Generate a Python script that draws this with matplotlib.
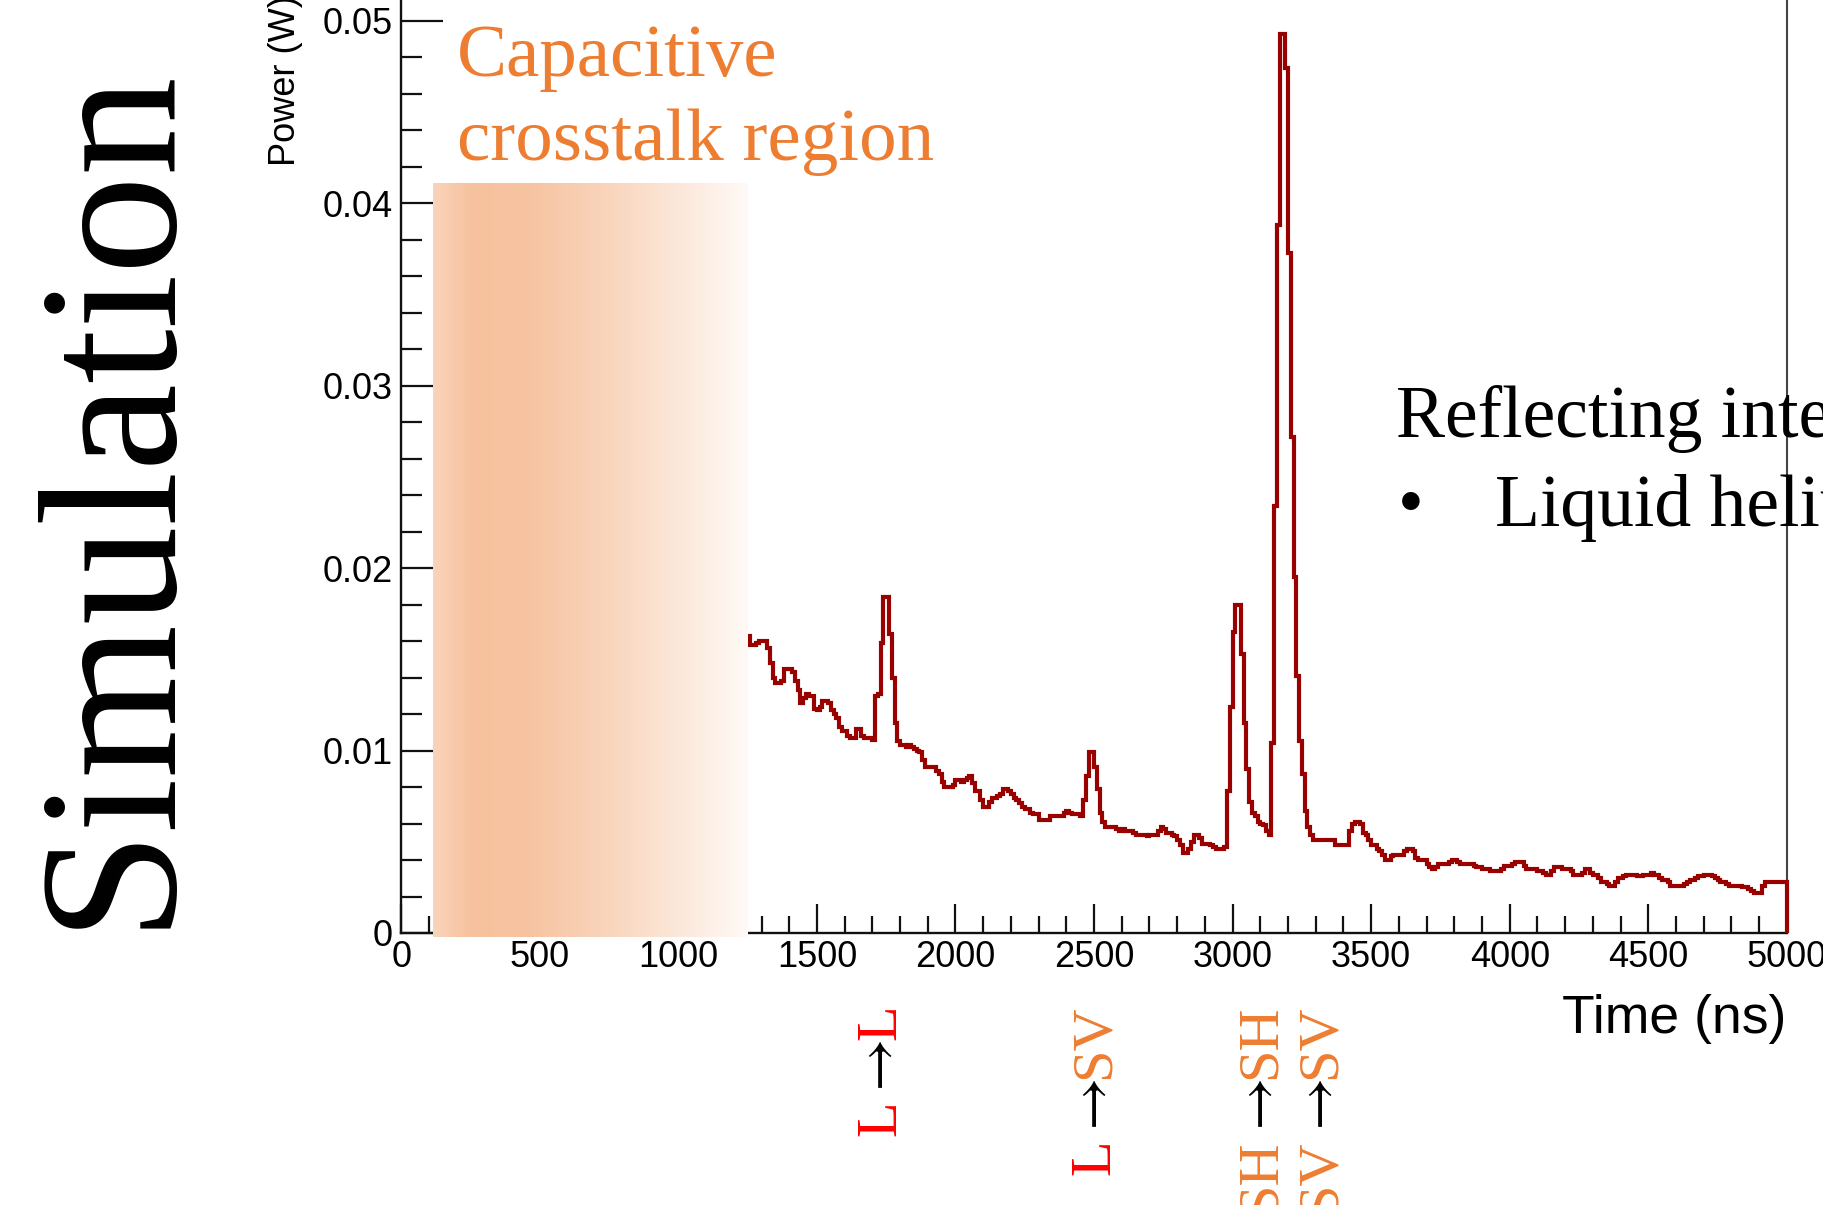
import matplotlib
matplotlib.use('Agg')
import matplotlib.pyplot as plt
import numpy as np
from matplotlib.ticker import MultipleLocator

plt.rcParams['font.family'] = ['Liberation Sans', 'DejaVu Sans']
plt.rcParams['mathtext.fontset'] = 'stix'

SERIF = ['Liberation Serif', 'DejaVu Serif']
ORANGE = '#ED7D31'
RED = '#FF0000'
HIST_COLOR = '#990000'

# histogram binning (ns)
t_start = 1200
bin_width = 10

# simulated power per bin in mW, one row = 100 ns, first row starts at 1200 ns
power_mw = [
    16.1, 16.2, 16.0, 16.1, 16.0, 16.3, 15.8, 15.8, 15.9, 16.0,
    16.0, 16.0, 15.6, 14.8, 14.0, 13.7, 13.7, 13.8, 14.5, 14.5,
    14.5, 14.3, 13.8, 13.3, 12.6, 12.9, 13.1, 13.0, 13.0, 12.3,
    12.2, 12.4, 12.7, 12.7, 12.6, 12.2, 12.0, 11.8, 11.3, 11.1,
    11.1, 10.8, 10.7, 10.7, 11.2, 11.2, 10.8, 10.7, 10.7, 10.7,
    10.6, 13.0, 13.1, 15.9, 18.4, 18.4, 16.4, 14.0, 11.5, 10.5,
    10.3, 10.3, 10.2, 10.3, 10.2, 10.1, 10.0, 9.9, 9.5, 9.1,
    9.1, 9.1, 9.1, 8.9, 8.7, 8.3, 8.0, 8.0, 8.0, 8.1,
    8.4, 8.4, 8.3, 8.4, 8.5, 8.6, 8.2, 7.8, 7.8, 7.3,
    6.9, 6.9, 7.2, 7.4, 7.4, 7.5, 7.6, 7.9, 7.9, 7.8,
    7.6, 7.4, 7.3, 7.1, 6.9, 6.8, 6.8, 6.6, 6.5, 6.5,
    6.2, 6.2, 6.2, 6.2, 6.4, 6.4, 6.4, 6.4, 6.4, 6.6,
    6.7, 6.6, 6.5, 6.5, 6.5, 6.4, 7.3, 8.6, 9.9, 9.9,
    9.1, 7.9, 6.6, 6.1, 5.8, 5.8, 5.8, 5.8, 5.7, 5.6,
    5.7, 5.6, 5.6, 5.6, 5.5, 5.4, 5.4, 5.4, 5.4, 5.3,
    5.4, 5.4, 5.4, 5.6, 5.8, 5.7, 5.5, 5.5, 5.4, 5.3,
    5.1, 4.8, 4.4, 4.4, 4.6, 5.0, 5.4, 5.4, 5.2, 4.9,
    4.9, 4.9, 4.8, 4.7, 4.6, 4.6, 4.6, 4.7, 7.8, 12.4,
    16.5, 18.0, 18.0, 15.3, 11.5, 9.0, 7.2, 6.6, 6.4, 6.1,
    6.0, 5.9, 5.6, 5.4, 10.4, 23.4, 38.8, 49.3, 49.3, 47.4,
    37.3, 27.2, 19.5, 14.1, 10.5, 8.7, 6.7, 5.8, 5.4, 5.1,
    5.1, 5.1, 5.1, 5.1, 5.1, 5.1, 5.1, 4.8, 4.8, 4.8,
    4.8, 4.8, 5.6, 6.0, 6.1, 6.1, 6.0, 5.5, 5.4, 5.1,
    4.8, 4.8, 4.6, 4.5, 4.3, 4.0, 4.0, 4.2, 4.3, 4.3,
    4.3, 4.3, 4.5, 4.6, 4.6, 4.5, 4.1, 4.0, 4.0, 4.0,
    3.8, 3.6, 3.5, 3.6, 3.8, 3.8, 3.8, 3.8, 3.9, 4.0,
    4.0, 3.9, 3.8, 3.8, 3.8, 3.8, 3.8, 3.7, 3.6, 3.6,
    3.5, 3.5, 3.5, 3.4, 3.4, 3.4, 3.4, 3.5, 3.7, 3.7,
    3.7, 3.8, 3.9, 3.9, 3.9, 3.7, 3.5, 3.5, 3.5, 3.5,
    3.4, 3.4, 3.3, 3.2, 3.2, 3.4, 3.6, 3.6, 3.6, 3.5,
    3.5, 3.5, 3.4, 3.2, 3.2, 3.2, 3.3, 3.5, 3.5, 3.3,
    3.2, 3.2, 3.0, 2.8, 2.8, 2.7, 2.6, 2.6, 2.8, 3.0,
    3.0, 3.1, 3.2, 3.2, 3.2, 3.2, 3.1, 3.1, 3.2, 3.2,
    3.2, 3.3, 3.2, 3.2, 3.0, 2.9, 2.9, 2.8, 2.6, 2.6,
    2.6, 2.6, 2.6, 2.7, 2.8, 2.9, 2.9, 3.0, 3.1, 3.1,
    3.2, 3.2, 3.2, 3.1, 3.0, 2.9, 2.8, 2.8, 2.7, 2.6,
    2.6, 2.6, 2.6, 2.6, 2.5, 2.5, 2.4, 2.3, 2.2, 2.2,
    2.2, 2.6, 2.8, 2.8, 2.8, 2.8, 2.8, 2.8, 2.8, 2.8,
]

x_ticks = [0, 500, 1000, 1500, 2000, 2500, 3000, 3500, 4000, 4500, 5000]
y_ticks = [0, 0.01, 0.02, 0.03, 0.04, 0.05]
y_tick_labels = ['0', '0.01', '0.02', '0.03', '0.04', '0.05']

region_lines = ['Capacitive', 'crosstalk region']
interface_lines = ['Reflecting interfaces:', 'Liquid helium']

# reflection paths written under the time axis, as (text, colour) pieces
arrow = r'$\rightarrow$'
transitions = [
    [('L', RED), (arrow, 'black'), ('L', RED)],
    [('L', RED), (arrow, 'black'), ('SV', ORANGE)],
    [('SH', ORANGE), (arrow, 'black'), ('SH', ORANGE)],
    [('SV', ORANGE), (arrow, 'black'), ('SV', ORANGE)],
]

W, H = 1824, 1205


def fx(px):
    return px / W


def fy(py):
    return 1 - py / H


fig = plt.figure(figsize=(W / 100, H / 100), dpi=100)
ax = fig.add_axes([fx(401.3), fy(933), fx(1786.8) - fx(401.3), (933 + 15.5) / H])

# power histogram
edges = t_start + bin_width * np.arange(len(power_mw) + 1)
power = np.array(power_mw) / 1000
ax.stairs(power, edges, baseline=0, color=HIST_COLOR, lw=3.0, zorder=3, clip_on=False)

# shaded band over the capacitive crosstalk window
u = np.linspace(0, 1, 500)
alpha = np.interp(u, [0, 0.12, 0.3, 0.55, 0.8, 1.0], [0.33, 0.47, 0.46, 0.33, 0.17, 0.04])
orange_rgb = np.array([237, 125, 49]) / 255
band = 1 - alpha[:, None] * (1 - orange_rgb)
ax.imshow(band[None, :, :], extent=(113, 1247, -0.0002, 0.0411), aspect='auto',
          interpolation='bilinear', zorder=4, clip_on=False)

ax.set_xlim(0, 5000)
ax.set_ylim(0, 0.052)

ax.set_xticks(x_ticks)
ax.set_xticklabels([str(t) for t in x_ticks])
ax.set_yticks(y_ticks)
ax.set_yticklabels(y_tick_labels)
ax.xaxis.set_minor_locator(MultipleLocator(100))
ax.yaxis.set_minor_locator(MultipleLocator(0.002))

ax.tick_params(axis='both', which='both', direction='in', colors='#111111', labelcolor='black',
               labelsize=26, top=False, right=False)
ax.tick_params(axis='x', which='major', length=21, width=1.6, pad=5)
ax.tick_params(axis='x', which='minor', length=12, width=1.6)
ax.tick_params(axis='y', which='major', length=30, width=1.6, pad=6)
ax.tick_params(axis='y', which='minor', length=15, width=1.6)

for side in ('left', 'bottom'):
    ax.spines[side].set_linewidth(1.7)
    ax.spines[side].set_color('#111111')
ax.spines['right'].set_linewidth(1.5)
ax.spines['right'].set_color('#444444')
ax.spines['top'].set_visible(False)

# axis titles
fig.text(fx(295), fy(166), 'Power (W)', fontsize=26, rotation=90,
         rotation_mode='anchor', ha='left', va='baseline')
fig.text(fx(1786), fy(1033), 'Time (ns)', fontsize=38.5, ha='right', va='baseline')

# big side title
fig.text(fx(163), fy(928), 'Simulation', family=SERIF, fontsize=142, rotation=90,
         rotation_mode='anchor', ha='left', va='baseline')

# crosstalk region caption
for line, base in zip(region_lines, [75.6, 160.5]):
    fig.text(fx(457), fy(base), line, family=SERIF, fontsize=54, color=ORANGE,
             ha='left', va='baseline')

# reflecting interfaces caption (runs off the right edge)
fig.text(fx(1396), fy(437), interface_lines[0], family=SERIF, fontsize=53,
         ha='left', va='baseline')
fig.text(fx(1398), fy(526), '\u2022', family=SERIF, fontsize=53, ha='left', va='baseline')
fig.text(fx(1495), fy(526), interface_lines[1], family=SERIF, fontsize=53,
         ha='left', va='baseline')

# reflection path labels, each stacked downwards from a common top edge
renderer = fig.canvas.get_renderer()
for pieces, xb in zip(transitions, [895, 1109, 1275, 1335]):
    y = fy(1004)
    for text, color in reversed(pieces):
        t = fig.text(fx(xb), y, text, family=SERIF, fontsize=42, color=color,
                     rotation=90, rotation_mode='anchor', ha='right', va='baseline')
        bb = t.get_window_extent(renderer)
        y -= bb.height / fig.bbox.height

fig.savefig('out.png', dpi=100)
